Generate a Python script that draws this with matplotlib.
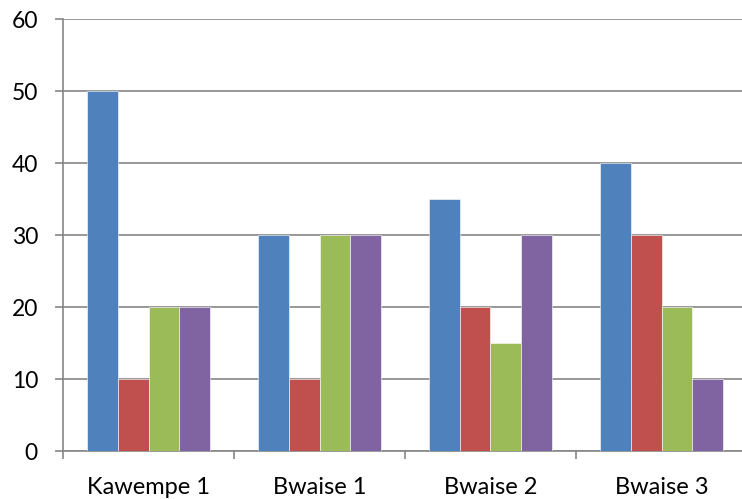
import numpy as np
import matplotlib.pyplot as plt
from matplotlib.ticker import FixedLocator

categories = ['Kawempe 1', 'Bwaise 1', 'Bwaise 2', 'Bwaise 3']
series_1 = [50, 30, 35, 40]
series_2 = [10, 10, 20, 30]
series_3 = [20, 30, 15, 20]
series_4 = [20, 30, 30, 10]
yticks = [0, 10, 20, 30, 40, 50, 60]

colors = ['#4F81BD', '#C0504D', '#9BBB59', '#8064A2']
grid_col = '#868686'

plt.rcParams['font.family'] = ['Lato', 'DejaVu Sans']

fig = plt.figure(figsize=(7.42, 4.99), dpi=100)
ax = fig.add_axes([63 / 742, 48 / 499, 679 / 742, 432 / 499])

x = np.arange(len(categories))
w = 0.18
for i, (vals, c) in enumerate(zip([series_1, series_2, series_3, series_4], colors)):
    ax.bar(x + (i - 1.5) * w, vals, width=w, color=c, edgecolor='white',
           linewidth=0.4, zorder=3)

ax.set_ylim(0, 60)
ax.set_xlim(-0.5, -0.5 + 679 / 171)
ax.set_yticks(yticks)
ax.yaxis.grid(True, color=grid_col, linewidth=1.2, zorder=0)
ax.tick_params(axis='y', length=6, width=1.2, color=grid_col, pad=12,
               labelsize=16.5)

ax.set_xticks(x)
ax.set_xticklabels(categories)
ax.xaxis.set_minor_locator(FixedLocator(np.arange(-0.5, len(categories), 1.0)))
ax.tick_params(axis='x', which='major', length=0, pad=19, labelsize=17)
ax.tick_params(axis='x', which='minor', length=6, width=1.2, color=grid_col)

for s in ['top', 'right']:
    ax.spines[s].set_visible(False)
for s in ['left', 'bottom']:
    ax.spines[s].set_color(grid_col)
    ax.spines[s].set_linewidth(1.2)

fig.savefig('out.png', dpi=100)
